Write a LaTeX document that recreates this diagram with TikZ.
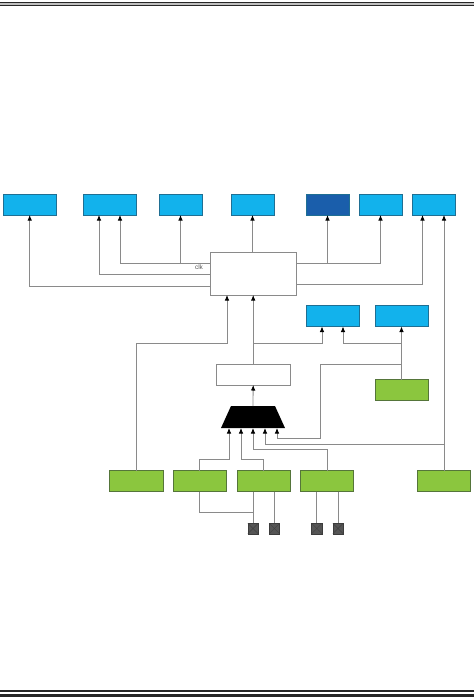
\documentclass[tikz,border=0pt]{standalone}
\usepackage{fontspec}
\setsansfont{Liberation Sans}
\usetikzlibrary{arrows.meta}
\definecolor{bufblue}{HTML}{12B2EC}
\definecolor{bufedge}{HTML}{1F6F93}
\definecolor{darkblue}{HTML}{1A5EAB}
\definecolor{leafgreen}{HTML}{8BC63E}
\definecolor{leafedge}{HTML}{55753A}
\definecolor{wiregray}{HTML}{8A8A8A}
\definecolor{padgray}{HTML}{555555}
\tikzset{
  wire/.style={draw=wiregray, line width=0.8pt},
  arrowwire/.style={wire, -{Latex[length=5.5pt,width=4.5pt,black]}},
  bufbox/.style={draw=bufedge, fill=bufblue, line width=0.6pt, minimum height=21pt, inner sep=0pt, outer sep=0pt},
  leafbox/.style={draw=leafedge, fill=leafgreen, line width=0.6pt, minimum height=21pt, inner sep=0pt, outer sep=0pt},
  plainbox/.style={draw=wiregray, fill=white, line width=0.7pt, inner sep=0pt, outer sep=0pt},
  padbox/.style={draw=padgray!70!black, fill=padgray, line width=0.4pt, minimum size=10.5pt, inner sep=0pt, outer sep=0pt,
    path picture={\draw[black!75, line width=0.4pt] (path picture bounding box.south west) -- (path picture bounding box.north east)
      (path picture bounding box.north west) -- (path picture bounding box.south east);}},
}
\begin{document}
\begin{tikzpicture}[x=1pt,y=-1pt]
  \useasboundingbox (0,0) rectangle (474,697);

  % reglas de cabecera y pie
  \fill[black!85] (0,2) rectangle (474,3.4);
  \fill[black!25] (0,3.4) rectangle (474,4.8);
  \fill[black!85] (0,4.8) rectangle (474,6);
  \fill[black!85] (0,690.4) rectangle (474,691.6);
  \fill[black!85] (0,693.6) rectangle (474,697);

  % fila superior
  \node[bufbox, minimum width=53.5pt] (bufa) at (29.7,204.5) {};
  \node[bufbox, minimum width=53pt] (bufb) at (109.5,204.5) {};
  \node[bufbox, minimum width=43pt] (bufc) at (180.5,204.5) {};
  \node[bufbox, minimum width=43pt] (bufd) at (252.5,204.5) {};
  \node[bufbox, fill=darkblue, minimum width=43pt] (bufe) at (327.5,204.5) {};
  \node[bufbox, minimum width=43pt] (buff) at (380.5,204.5) {};
  \node[bufbox, minimum width=43pt] (bufg) at (433.5,204.5) {};

  % bloques centrales
  \node[plainbox, minimum width=85.5pt, minimum height=43pt] (ctrl) at (253.2,273.5) {};
  \node[bufbox, minimum width=53pt] (bufh) at (332.5,316) {};
  \node[bufbox, minimum width=53pt] (bufi) at (401.5,316) {};
  \node[plainbox, minimum width=74.5pt, minimum height=21pt] (latch) at (253.2,374.5) {};
  \node[leafbox, minimum width=53pt] (leafr) at (401.5,390) {};
  % mux
  \fill (231,406) -- (275,406) -- (285,428) -- (221,428) -- cycle;
  \coordinate (muxtop) at (253,406);

  % fila inferior
  \node[leafbox, minimum width=53.5pt] (leafa) at (136.2,481) {};
  \node[leafbox, minimum width=53.5pt] (leafb) at (199.7,481) {};
  \node[leafbox, minimum width=53pt] (leafc) at (263.5,481) {};
  \node[leafbox, minimum width=53pt] (leafd) at (327,481) {};
  \node[leafbox, minimum width=53pt] (leafe) at (443.5,481) {};

  % pads
  \node[padbox] (pada) at (253,528.5) {};
  \node[padbox] (padb) at (274.3,528.5) {};
  \node[padbox] (padc) at (316.8,528.5) {};
  \node[padbox] (padd) at (338,528.5) {};

  % puntos de paso
  \coordinate (bina) at (99,215);
  \coordinate (binb) at (120,215);
  \coordinate (ginb) at (444,215);
  \coordinate (ginc) at (422.5,215);
  \coordinate (ctrla) at (210.5,286.5);
  \coordinate (ctrlb) at (210.5,274.5);
  \coordinate (ctrlc) at (210.5,263);
  \coordinate (ctrld) at (296,263);
  \coordinate (ctrle) at (296,284.5);
  \coordinate (ctrlf) at (227,295);
  \coordinate (hina) at (322,326.5);
  \coordinate (hinb) at (343,326.5);
  \coordinate (split) at (253,343);
  \coordinate (tapr) at (401.5,364);
  \coordinate (tapa) at (401.5,343);
  \coordinate (busr) at (444,444);
  \coordinate (muxa) at (229,428);
  \coordinate (muxb) at (241,428);
  \coordinate (muxc) at (253,428);
  \coordinate (muxd) at (265,428);
  \coordinate (muxe) at (277,428);

  % salidas del bloque central
  \draw[arrowwire] (ctrla) -| (bufa.south);
  \draw[arrowwire] (ctrlb) -| (bina);
  \draw[arrowwire] (ctrlc) -| (binb);
  \draw[arrowwire] (ctrlc -| bufc.south) -- (bufc.south);
  \draw[arrowwire] (ctrl.north -| bufd.south) -- (bufd.south);
  \draw[arrowwire] (ctrld) -| (buff.south);
  \draw[arrowwire] (ctrld -| bufe.south) -- (bufe.south);
  \draw[arrowwire] (ctrle) -| (ginc);
  \node[font=\sffamily\fontsize{6.5}{7}\selectfont, text=black!65, inner sep=0pt] (clk) at (199,266.8) {clk};

  % entradas del bloque central
  \draw[arrowwire] (leafa.north) |- (136.2,343) -| (ctrlf);
  \draw[arrowwire] (latch.north) -- (ctrl.south);
  \draw[arrowwire] (split) -| (hina);
  \draw[arrowwire] (tapa) -| (hinb);
  \draw[arrowwire] (leafr.north) -- (bufi.south);
  \draw[arrowwire] (muxtop) -- (latch.south);

  % realimentacion hacia el mux
  \draw[arrowwire] (tapr) -| (320,438.5) -| (muxe);
  \draw[arrowwire] (busr) -| (muxd);
  \draw[arrowwire] (leafe.north -| ginb) -- (ginb);

  % entradas del mux
  \draw[arrowwire] (leafb.north) |- (229,459) -- (muxa);
  \draw[arrowwire] (leafc.north) |- (241,459) -- (muxb);
  \draw[arrowwire] (leafd.north) |- (253,449) -- (muxc);

  % conexiones a los pads
  \draw[wire] (leafc.south -| pada.north) -- (pada.north);
  \draw[wire] (leafc.south -| padb.north) -- (padb.north);
  \draw[wire] (leafd.south -| padc.north) -- (padc.north);
  \draw[wire] (leafd.south -| padd.north) -- (padd.north);
  \draw[wire] (leafb.south) |- (253,512.5);
\end{tikzpicture}
\end{document}
